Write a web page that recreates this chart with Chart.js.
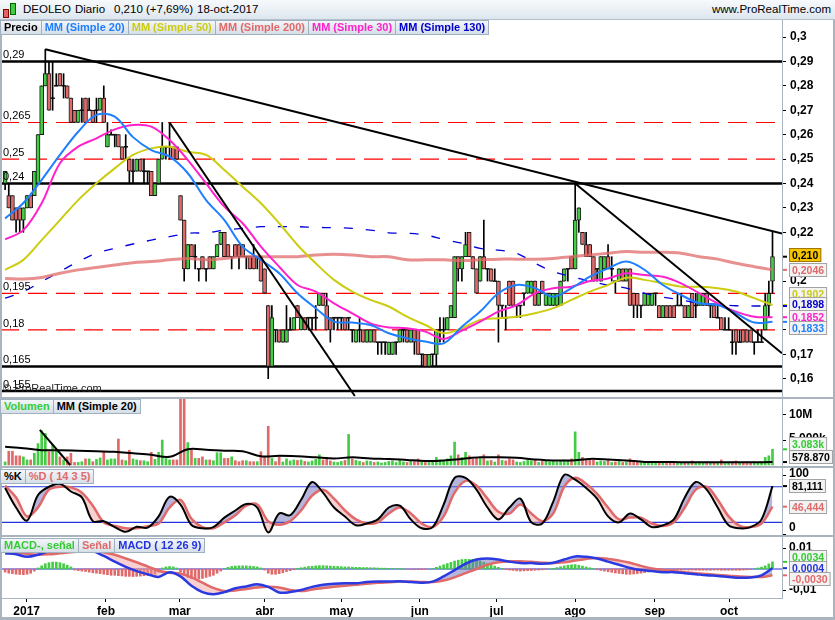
<!DOCTYPE html>
<html lang="es">
<head>
<meta charset="utf-8">
<title>DEOLEO Diario</title>
<script src="https://cdn.jsdelivr.net/npm/chart.js@4.4.1/dist/chart.umd.min.js"></script>
<style>
  html, body { margin: 0; padding: 0; background: #fff; }
  #wrap { position: relative; width: 835px; height: 620px; overflow: hidden; font-family: "Liberation Sans", Arial, sans-serif; }
  #wrap canvas { position: absolute; left: 0; }
  #topbar { position: absolute; left: 0; top: 0; width: 835px; height: 20px; background: linear-gradient(#f7fafc, #dde6ee); border-bottom: 1px solid #b4c0cb; box-sizing: border-box; font-size: 11.5px; z-index: 6; }
  #topbar span { position: absolute; top: 3px; white-space: nowrap; }
  .tabs { position: absolute; left: 0; display: flex; z-index: 5; }
  .tabs div { height: 13px; line-height: 13px; padding: 0 3px; font: bold 11px "Liberation Sans", Arial, sans-serif; background: linear-gradient(#f3f6f9, #d6dfe7); border: 1px solid #9fb0bf; margin-right: -1px; white-space: nowrap; }
  .sep { position: absolute; background: #a9b4be; z-index: 4; }
</style>
</head>
<body>
<div id="wrap">
  <div id="topbar">
    <div style="position:absolute;left:3px;top:9px;width:4px;height:7px;background:#e06666;border:1px solid #800"></div>
    <div style="position:absolute;left:10px;top:3px;width:4px;height:10px;background:#44cc44;border:1px solid #060"></div>
    <span style="left:23px">DEOLEO</span>
    <span style="left:75px">Diario</span>
    <span style="left:114px">0,210 (+7,69%)</span>
    <span style="left:197px">18-oct-2017</span>
    <span style="right:4px">www.ProRealTime.com</span>
  </div>
  <div class="tabs" style="top:20px">
    <div style="color:#000">Precio</div>
    <div style="color:#1f7fff">MM (Simple 20)</div>
    <div style="color:#cccc11">MM (Simple 50)</div>
    <div style="color:#e06a6a">MM (Simple 200)</div>
    <div style="color:#ff22cc">MM (Simple 30)</div>
    <div style="color:#0000cc">MM (Simple 130)</div>
  </div>
  <div class="tabs" style="top:399px">
    <div style="color:#33cc33">Volumen</div>
    <div style="color:#000">MM (Simple 20)</div>
  </div>
  <div class="tabs" style="top:469px">
    <div style="color:#000">%K</div>
    <div style="color:#e06a6a">%D ( 14 3 5)</div>
  </div>
  <div class="tabs" style="top:538px">
    <div style="color:#33cc33">MACD-, señal</div>
    <div style="color:#e06a6a">Señal</div>
    <div style="color:#2233dd">MACD ( 12 26 9)</div>
  </div>

  <canvas id="price" width="835" height="377" style="top:20px"></canvas>
  <canvas id="volume" width="835" height="69" style="top:398px"></canvas>
  <canvas id="stoch" width="835" height="68" style="top:468px"></canvas>
  <canvas id="macd" width="835" height="83" style="top:537px"></canvas>

  <div class="sep" style="left:0;top:397px;width:835px;height:2px"></div>
  <div class="sep" style="left:0;top:466px;width:835px;height:2px"></div>
  <div class="sep" style="left:0;top:535px;width:835px;height:2px"></div>
  <div class="sep" style="left:0;top:598px;width:783px;height:1px"></div>
  <div class="sep" style="left:782px;top:20px;width:1px;height:579px"></div>
  <div class="sep" style="left:0;top:20px;width:2px;height:600px"></div>
  <div class="sep" style="left:833px;top:20px;width:2px;height:600px"></div>
  <div class="sep" style="left:0;top:617px;width:835px;height:3px"></div>
</div>

<script>
// one candle per trading day, index 0 = 22-dic-2016, index 210 = 18-oct-2017
const priceOpen = [
  .24,.235,.235,.23,.23,.225,.23,.235,.235,.24,
  .26,.28,.285,.275,.28,.285,.28,.28,.275,.27,
  .265,.27,.275,.27,.27,.27,.27,.275,.255,.26,
  .26,.26,.255,.255,.25,.245,.245,.25,.245,.245,
  .245,.235,.24,.25,.255,.255,.255,.255,.235,.225,
  .205,.215,.21,.205,.21,.205,.21,.205,.21,.215,
  .22,.215,.21,.215,.215,.215,.21,.21,.21,.21,
  .21,.205,.19,.165,.18,.18,.175,.175,.18,.18,
  .19,.18,.185,.185,.185,.185,.19,.195,.19,.185,
  .185,.185,.185,.185,.185,.18,.175,.18,.18,.175,
  .175,.18,.175,.175,.175,.17,.17,.175,.175,.18,
  .18,.175,.18,.18,.17,.17,.165,.17,.17,.18,
  .18,.18,.185,.185,.21,.205,.21,.22,.21,.205,
  .2,.21,.205,.205,.2,.2,.19,.185,.2,.2,
  .19,.19,.195,.195,.195,.2,.19,.2,.19,.19,
  .19,.19,.19,.2,.205,.21,.205,.225,.22,.215,
  .215,.21,.205,.2,.205,.21,.205,.2,.2,.205,
  .2,.205,.195,.195,.19,.19,.19,.19,.195,.19,
  .185,.19,.19,.19,.19,.19,.19,.185,.195,.19,
  .19,.19,.195,.19,.19,.185,.185,.18,.18,.175,
  .18,.175,.18,.18,.18,.175,.175,.175,.18,.19,.2
];
const priceHigh = [
  .245,.24,.235,.23,.23,.23,.235,.235,.245,.26,
  .28,.295,.29,.29,.285,.285,.285,.28,.275,.27,
  .27,.275,.275,.275,.27,.275,.275,.28,.265,.262,
  .26,.26,.255,.26,.25,.25,.25,.25,.25,.245,
  .245,.24,.25,.265,.255,.265,.255,.255,.235,.225,
  .215,.215,.215,.205,.21,.205,.21,.21,.215,.22,
  .22,.215,.21,.215,.215,.215,.21,.21,.215,.21,
  .21,.205,.19,.19,.18,.18,.18,.19,.185,.185,
  .19,.185,.185,.185,.185,.19,.195,.195,.195,.185,
  .185,.185,.185,.185,.185,.18,.18,.185,.18,.18,
  .18,.18,.175,.175,.175,.175,.175,.175,.18,.18,
  .18,.18,.18,.18,.17,.17,.17,.17,.18,.185,
  .185,.185,.19,.21,.21,.21,.22,.22,.21,.205,
  .21,.225,.205,.205,.205,.2,.19,.19,.2,.2,
  .19,.19,.195,.2,.2,.2,.195,.2,.195,.195,
  .195,.195,.2,.205,.205,.21,.24,.23,.22,.22,
  .215,.21,.205,.21,.21,.215,.21,.2,.205,.205,
  .205,.205,.195,.195,.19,.195,.195,.195,.195,.19,
  .19,.19,.19,.19,.195,.195,.19,.19,.195,.195,
  .195,.195,.195,.19,.19,.19,.185,.185,.185,.18,
  .18,.18,.18,.18,.18,.175,.18,.18,.195,.2,.22
];
const priceLow = [
  .2375,.23,.225,.22,.22,.22,.23,.23,.235,.24,
  .26,.28,.27,.27,.28,.28,.275,.275,.265,.265,
  .265,.265,.265,.27,.265,.265,.27,.265,.255,.26,
  .255,.255,.25,.25,.24,.24,.245,.245,.24,.24,
  .235,.235,.24,.25,.25,.25,.25,.25,.225,.2,
  .205,.21,.205,.2,.205,.2,.205,.205,.21,.215,
  .21,.21,.205,.21,.205,.21,.205,.205,.205,.205,
  .2,.195,.16,.165,.175,.175,.175,.175,.18,.18,
  .185,.18,.18,.18,.18,.18,.19,.19,.18,.175,
  .18,.18,.18,.18,.18,.175,.175,.175,.175,.175,
  .175,.175,.17,.17,.17,.17,.17,.17,.175,.175,
  .175,.175,.17,.17,.165,.165,.165,.165,.165,.175,
  .175,.18,.185,.185,.2,.2,.21,.21,.205,.195,
  .2,.205,.2,.2,.2,.175,.185,.18,.19,.19,
  .185,.185,.19,.195,.195,.19,.19,.195,.19,.19,
  .19,.19,.19,.2,.2,.205,.205,.22,.215,.21,
  .21,.2,.2,.2,.205,.205,.2,.195,.2,.2,
  .2,.19,.185,.185,.185,.19,.19,.19,.19,.185,
  .185,.185,.185,.185,.19,.19,.185,.185,.185,.185,
  .19,.19,.19,.185,.185,.185,.18,.18,.18,.17,
  .17,.175,.175,.175,.175,.17,.175,.175,.18,.185,.195
];
const priceClose = [
  .245,.23,.225,.225,.225,.23,.235,.23,.245,.26,
  .28,.285,.27,.275,.28,.28,.28,.275,.265,.265,
  .27,.27,.265,.27,.265,.27,.275,.265,.26,.26,
  .26,.255,.25,.255,.245,.245,.25,.245,.245,.245,
  .235,.24,.25,.255,.255,.255,.25,.25,.225,.205,
  .215,.21,.21,.205,.205,.205,.205,.21,.215,.22,
  .21,.21,.21,.21,.21,.21,.21,.205,.205,.21,
  .2,.195,.165,.185,.18,.175,.18,.18,.18,.185,
  .185,.185,.18,.185,.185,.185,.195,.19,.18,.18,
  .185,.185,.185,.18,.185,.18,.18,.18,.175,.18,
  .18,.175,.175,.175,.175,.175,.175,.175,.18,.18,
  .175,.18,.175,.17,.17,.165,.17,.17,.18,.18,
  .18,.185,.19,.21,.205,.21,.215,.21,.205,.195,
  .21,.205,.205,.2,.2,.19,.19,.185,.19,.19,
  .19,.19,.195,.2,.2,.19,.195,.195,.195,.195,
  .195,.195,.2,.205,.205,.205,.225,.23,.215,.21,
  .21,.2,.205,.21,.21,.205,.205,.2,.205,.2,
  .205,.19,.19,.19,.19,.195,.195,.195,.195,.185,
  .19,.185,.185,.185,.19,.19,.185,.19,.185,.19,
  .195,.195,.19,.19,.185,.185,.18,.18,.18,.175,
  .175,.175,.175,.175,.175,.175,.175,.175,.19,.195,.21
];
// volume in thousands of shares
const volume = [
  600,2700,2700,1800,1800,1600,1000,1000,2300,4200,
  6700,6200,2600,3900,2900,1600,1000,1600,2300,500,
  500,650,1200,1200,650,1100,1400,2700,1000,1200,
  1200,5100,1000,850,2900,1200,1000,850,850,650,
  2500,1100,2500,4900,1300,1000,1000,1000,15000,15000,
  4400,2900,1300,1300,1600,1000,1000,850,2400,2400,
  1300,1300,1600,850,650,850,850,650,650,650,
  2600,1600,7600,1300,650,1600,600,1200,800,1000,
  900,1000,700,600,800,1100,2000,1000,1500,800,
  600,500,700,900,6000,1200,900,700,500,800,
  700,500,600,400,500,700,800,500,1000,600,
  500,800,700,1200,600,500,500,600,1500,1000,
  700,1200,1800,4500,2000,1500,2500,1800,1200,1500,
  1500,2000,800,900,600,2000,900,800,1200,1000,
  600,500,700,900,800,1000,500,700,800,600,
  700,600,900,1000,800,1200,6500,2500,1500,1000,
  900,1000,600,800,700,900,500,600,700,500,
  600,1200,600,700,500,600,500,600,400,600,
  500,600,500,600,400,400,500,500,800,500,
  600,500,600,400,500,400,1000,500,400,600,
  800,400,500,600,500,600,500,600,1500,1800,3083
];

// moving averages read every 5 candles
const maIdx = [0,5,10,15,20,25,30,35,40,45,50,55,60,65,70,75,80,85,90,95,100,105,110,115,120,125,130,135,140,145,150,155,160,165,170,175,180,185,190,195,200,205,210];
const ma20 = [.2257,.232,.2415,.2517,.2612,.2681,.2674,.259,.2537,.251,.2442,.2332,.225,.2141,.2087,.2032,.195,.1889,.1834,.183,.182,.1786,.1766,.1752,.1745,.1813,.1875,.195,.1984,.1971,.1936,.1971,.2018,.2052,.208,.2046,.1984,.1943,.1909,.1902,.1868,.183,.1833];
const ma30 = [.2171,.2209,.2319,.2483,.2551,.2585,.2622,.264,.2633,.2578,.2496,.24,.2305,.2237,.2141,.2059,.1984,.1957,.1909,.1868,.1827,.181,.1807,.1793,.1763,.1797,.1834,.1875,.1902,.195,.1971,.1977,.2,.2011,.2032,.2025,.2018,.1991,.195,.1909,.1875,.1854,.1852];
const ma50 = [.2046,.2087,.2168,.225,.2332,.2401,.2462,.2517,.2544,.2551,.253,.2517,.2455,.2387,.2319,.2237,.2148,.2073,.2005,.1957,.1923,.1896,.1854,.182,.1786,.1807,.1841,.1848,.1854,.1868,.1889,.1923,.1957,.1984,.2014,.2005,.1991,.1977,.1977,.1971,.1957,.193,.1902];
const ma130 = [.193,.1957,.1998,.2039,.208,.2114,.2134,.2152,.2168,.2182,.2196,.2198,.2209,.2216,.2223,.2223,.2223,.222,.2219,.2216,.2209,.2198,.2196,.2189,.2171,.2155,.2134,.2127,.2114,.2073,.2039,.2018,.2,.1984,.1971,.195,.1934,.1923,.1909,.1905,.1899,.1898,.1898];
const ma200 = [.2011,.2009,.2015,.2032,.2046,.2056,.2066,.2075,.208,.2087,.2093,.2087,.2093,.21,.21,.21,.21,.2107,.211,.2107,.21,.21,.2087,.2087,.2087,.2084,.2087,.209,.209,.209,.2093,.21,.2107,.2114,.2121,.2118,.2118,.2114,.21,.209,.2073,.2059,.2046];
const volMa20 = [3600,3300,2900,2900,2800,2700,2600,2300,2000,1600,3100,3000,2800,2700,1700,1800,1700,1500,1300,1500,1300,1200,1000,800,900,1200,1500,1500,1400,1100,900,900,1200,1100,900,600,600,550,550,550,550,550,578.87];

// oscillator lines read every 3 candles
const oscIdx = Array.from({ length: 71 }, (_, i) => i * 3);
const stochK = [78,45,23,66,80,85,72,62,22,22,12,4,12.6,11,30,63,50,15.5,10,12,28,40,51,45,3,35,
  32,58,88,70,45,30,15,18,25,45,48,25,10,12,50,95,95,75,45,25,45,60,20,18,55,100,92,78,60,30,20,35,25,12,15,25,62,88,75,45,15,10,12,25,81.111];
const stochD = [82,62,30,45,75,80,79,70,48,20,14,10,10,13.5,18,45,58,26,12,10,20,32,48,50,22,16,
  22,40,65,75,60,40,25,18,20,35,45,35,18,12,30,70,90,82,60,38,35,50,35,22,35,80,95,85,68,45,25,28,28,18,14,20,45,75,80,58,30,14,12,18,46.444];
const macdLine = [.0075,.007,.0058,.0068,.0085,.0092,.009,.0088,.0085,.0062,.0035,.001,-.001,-.0025,-.0038,-.0015,-.0035,-.008,-.011,-.012,-.011,-.0092,-.0083,-.0073,-.0085,-.0112,
  -.011,-.01,-.0085,-.0075,-.007,-.0068,-.0068,-.0062,-.006,-.006,-.0058,-.0062,-.0065,-.006,-.0035,-.0005,.0025,.0045,.005,.0045,.0035,.0028,.0028,.0025,.003,.0045,.006,.0058,.005,.0035,.002,.0005,-.0005,-.001,-.0015,-.0015,-.002,-.0025,-.003,-.0033,-.0038,-.0042,-.004,-.003,.0004];
const macdSignal = [.0085,.008,.0072,.0068,.007,.0075,.008,.0084,.0087,.008,.0068,.005,.0032,.0012,-.0008,-.0018,-.0022,-.004,-.0065,-.009,-.0105,-.0102,-.0095,-.0088,-.0085,-.0088,
  -.01,-.0105,-.0098,-.009,-.0085,-.008,-.0075,-.007,-.0066,-.0063,-.006,-.006,-.0062,-.0062,-.0055,-.004,-.002,0,.002,.0032,.0037,.0037,.0034,.003,.0028,.0032,.004,.0048,.0052,.0048,.004,.003,.0015,.0003,-.0005,-.001,-.0015,-.002,-.0024,-.0028,-.0032,-.0036,-.0038,-.0038,-.003];
// histogram (MACD - señal), one bar per candle
const macdHist = [
  -.0015,-.002,-.0022,-.0025,-.0026,-.0027,-.0025,-.002,-.001,.0005,
  .0015,.0025,.003,.0033,.0033,.003,.0025,.0018,.001,-.0005,
  -.0008,-.001,-.0012,-.0015,-.0018,-.002,-.0022,-.0025,-.0027,-.003,
  -.003,-.0032,-.0033,-.0035,-.0035,-.0036,-.0035,-.0034,-.0032,-.003,
  -.0028,-.0025,-.0015,.0005,.001,.0012,.001,.0005,-.0015,-.003,
  -.004,-.0045,-.005,-.0048,-.0045,-.004,-.0035,-.003,-.002,-.001,
  .0002,.0008,.0012,.0014,.0015,.0015,.0015,.0014,.0012,.001,
  .0005,-.0005,-.002,-.0025,-.0025,-.0022,-.0018,-.0012,-.0008,-.0003,
  .0003,.0006,.0009,.0012,.0013,.0015,.0016,.0016,.0015,.0014,
  .0013,.0012,.0011,.001,.001,.0009,.0008,.0008,.0007,.0007,
  .0006,.0006,.0005,.0004,.0004,.0003,.0003,.0002,.0002,.0001,
  -.0001,-.0002,-.0003,-.0003,-.0003,-.0002,0,.0003,.0008,.0014,
  .002,.0026,.0032,.0038,.0042,.0045,.0046,.0046,.0045,.0042,
  .0038,.0032,.0026,.002,.0014,.0008,.0003,-.0002,-.0005,-.0007,
  -.0009,-.001,-.0009,-.0008,-.0007,-.0006,-.0005,-.0004,-.0002,0,
  .0003,.0007,.0011,.0015,.0018,.002,.0021,.0018,.0014,.001,
  .0006,.0002,-.0003,-.0007,-.001,-.0013,-.0016,-.0019,-.0021,-.0023,
  -.0025,-.0025,-.0024,-.0022,-.002,-.0017,-.0014,-.0012,-.001,-.0009,
  -.0008,-.0007,-.0006,-.0006,-.0005,-.0005,-.0005,-.0005,-.0005,-.0006,
  -.0006,-.0006,-.0006,-.0006,-.0005,-.0005,-.0006,-.0006,-.0006,-.0006,
  -.0006,-.0006,-.0005,-.0004,-.0002,.0001,.0005,.0009,.0015,.0024,.0034
];

const solidLevels = [0.29, 0.24, 0.165, 0.155];
const dashedLevels = [0.265, 0.25, 0.195, 0.18];
// [from candle, from price, to candle, to price]
const trendLines = [[11, 0.295, 212.6, 0.2195], [45, 0.265, 95.7, 0.1529], [156, 0.24, 212.6, 0.1704]];
const volTrendLines = [[9.5, 6900, 17.8, 0]];

const monthTicks = [5.9, 27.6, 47.8, 71.1, 92, 113.5, 134.5, 156, 177.8, 198.1];
const monthLabels = ['2017', 'feb', 'mar', 'abr', 'may', 'jun', 'jul', 'ago', 'sep', 'oct'];

const xMin = -1.4, xMax = 212.6;
const GREEN = '#44cc44', RED = '#e06a6a', SALMON = '#e06a6a';
const FONT = '"Liberation Sans", Arial, sans-serif';
const BOXFONT = 'bold 10.5px ' + FONT;

Chart.defaults.font.family = FONT;
Chart.defaults.animation = false;
Chart.defaults.events = [];
Chart.defaults.plugins.legend.display = false;
Chart.defaults.plugins.tooltip.enabled = false;

const pts = (idx, vals) => idx.map((x, i) => ({ x, y: vals[i] }));
const comma = (v, d) => v.toFixed(d).replace('.', ',');
const dots = n => String(Math.round(n)).replace(/\B(?=(\d{3})+(?!\d))/g, '.');
const last = a => a[a.length - 1];

const lineSet = (data, color, width, extra = {}) => Object.assign({
  type: 'line', data, borderColor: color, borderWidth: width,
  pointRadius: 0, tension: 0.35, fill: false
}, extra);

const segment = (x1, y1, x2, y2, color, width, extra = {}) =>
  lineSet([{ x: x1, y: y1 }, { x: x2, y: y2 }], color, width, Object.assign({ tension: 0 }, extra));

const fitRight = s => { s.width = 53; s.paddingTop = 0; s.paddingBottom = 0; };
const hiddenX = { type: 'linear', min: xMin, max: xMax, offset: false, display: false };

// candle direction: up / down, doji compared with previous close
const candleDir = priceClose.map((c, i) => {
  if (c > priceOpen[i]) return 1;
  if (c < priceOpen[i]) return -1;
  return i > 0 && c < priceClose[i - 1] ? -1 : 1;
});

// right hand labels, value boxes and tick marks
const sideLabels = {
  id: 'sideLabels',
  afterDraw(chart, args, opts) {
    const { ctx } = chart;
    const y = chart.scales.y;
    const x0 = chart.chartArea.right;
    ctx.save();
    ctx.textBaseline = 'middle';
    (opts.texts || []).forEach(t => {
      const py = Math.round(y.getPixelForValue(t.v)) + 0.5;
      ctx.strokeStyle = '#000';
      ctx.lineWidth = 1;
      ctx.beginPath(); ctx.moveTo(x0, py); ctx.lineTo(x0 + 4, py); ctx.stroke();
      ctx.font = 'bold 12px ' + FONT;
      ctx.fillStyle = '#000';
      ctx.fillText(t.text, x0 + 7, py + (t.dy || 0));
    });
    ctx.font = BOXFONT;
    (opts.boxes || []).forEach(b => {
      const py = y.getPixelForValue(b.v);
      ctx.strokeStyle = b.color;
      ctx.lineWidth = 2;
      ctx.beginPath(); ctx.moveTo(x0, py); ctx.lineTo(x0 + 5, py); ctx.stroke();
      const cy = Math.round(py + (b.dy || 0));
      const w = ctx.measureText(b.text).width + 6;
      ctx.fillStyle = b.bg || '#f3f3f3';
      ctx.fillRect(x0 + 7, cy - 7, w, 14);
      ctx.strokeStyle = b.edge || '#a3a3a3';
      ctx.lineWidth = 1;
      ctx.strokeRect(x0 + 7.5, cy - 6.5, w - 1, 13);
      ctx.fillStyle = b.textColor || b.color;
      ctx.fillText(b.text, x0 + 10, cy + 1);
    });
    ctx.restore();
  }
};

// level captions on the left of the price pane
const levelCaptions = {
  id: 'levelCaptions',
  afterDatasetsDraw(chart) {
    const { ctx } = chart;
    const y = chart.scales.y;
    ctx.save();
    ctx.font = '11px ' + FONT;
    ctx.fillStyle = '#000';
    ctx.textBaseline = 'alphabetic';
    solidLevels.concat(dashedLevels).forEach(v => {
      ctx.fillText(comma(v, 3).replace(/0$/, ''), 3, y.getPixelForValue(v) - 3);
    });
    ctx.fillStyle = '#222';
    ctx.fillText('\u00a9 ProRealTime.com', 3, chart.chartArea.bottom - 5);
    ctx.restore();
  }
};

// ---------- price pane ----------
const wicks = priceHigh.map((h, i) => ({ x: i, y: [priceLow[i], h] }));
const bodies = priceOpen.map((o, i) => {
  const c = priceClose[i];
  return o === c ? { x: i, y: [o - 0.00025, o + 0.00025] } : { x: i, y: [o, c] };
});
const bodyColors = priceOpen.map((o, i) => priceClose[i] > o ? GREEN : priceClose[i] < o ? RED : '#000');

new Chart(document.getElementById('price'), {
  type: 'bar',
  data: {
    datasets: [
      ...trendLines.map(t => segment(t[0], t[1], t[2], t[3], '#000', 2, { order: 0 })),
      lineSet(pts(maIdx, ma20), '#1f7fff', 2, { order: 1 }),
      lineSet(pts(maIdx, ma30), '#ff22cc', 2, { order: 1 }),
      lineSet(pts(maIdx, ma50), '#cccc11', 2, { order: 1 }),
      lineSet(pts(maIdx, ma200), 'rgba(224,106,106,0.75)', 3, { order: 1 }),
      lineSet(pts(maIdx, ma130), '#0000dd', 1.3, { order: 1, borderDash: [9, 13] }),
      { type: 'bar', data: bodies, backgroundColor: bodyColors, borderColor: '#1a1a1a', borderWidth: 1,
        borderSkipped: false, barThickness: 4, grouped: false, order: 2 },
      { type: 'bar', data: wicks, backgroundColor: '#000', barThickness: 1, grouped: false, order: 3 },
      ...solidLevels.map(v => segment(xMin, v, xMax, v, '#000', 2.5, { order: 4 })),
      ...dashedLevels.map(v => segment(xMin, v, xMax, v, '#ff0000', 1.2, { order: 4, borderDash: [19, 9] }))
    ]
  },
  options: {
    responsive: false,
    layout: { padding: 0 },
    scales: {
      x: hiddenX,
      y: {
        position: 'right', min: 0.1525, max: 0.307,
        afterFit: fitRight,
        ticks: { stepSize: 0.01, includeBounds: false, color: '#000', padding: 4,
          font: { weight: 'bold', size: 12 }, callback: v => String(Math.round(v * 100) / 100).replace('.', ',') },
        grid: { drawOnChartArea: false, color: '#000', tickLength: 4 },
        border: { display: false }
      }
    },
    plugins: {
      sideLabels: { boxes: [
        { text: comma(last(priceClose), 3), v: last(priceClose), dy: -1.5, color: '#000', bg: '#f5c400', edge: '#a07800' },
        { text: comma(last(ma200), 4), v: last(ma200), dy: 0, color: '#e06a6a' },
        { text: comma(last(ma50), 4), v: last(ma50), dy: -11, color: '#cccc11' },
        { text: comma(last(ma130), 4), v: last(ma130), dy: -1.5, color: '#0000cc' },
        { text: comma(last(ma30), 4), v: last(ma30), dy: 0, color: '#ff22cc' },
        { text: comma(last(ma20), 4), v: last(ma20), dy: 6, color: '#1f7fff' }
      ] }
    }
  },
  plugins: [levelCaptions, sideLabels]
});

// ---------- volume pane ----------
new Chart(document.getElementById('volume'), {
  type: 'bar',
  data: {
    datasets: [
      ...volTrendLines.map(t => segment(t[0], t[1], t[2], t[3], '#000', 2, { order: 0 })),
      lineSet(pts(maIdx, volMa20), '#000', 2, { order: 1 }),
      { type: 'bar', data: volume.map((v, i) => ({ x: i, y: v })),
        backgroundColor: candleDir.map(d => d > 0 ? GREEN : RED),
        barThickness: 2, grouped: false, order: 2 }
    ]
  },
  options: {
    responsive: false,
    layout: { padding: 0 },
    scales: {
      x: hiddenX,
      y: { position: 'right', min: -390, max: 13140, afterFit: fitRight,
        ticks: { display: false }, grid: { display: false }, border: { display: false } }
    },
    plugins: {
      sideLabels: {
        texts: [{ text: '10M', v: 10000 }, { text: '5.000k', v: 5000, dy: -2 }],
        boxes: [
          { text: dots(last(volume)) + 'k', v: last(volume), dy: -5, color: '#33cc33' },
          { text: dots(last(volMa20) * 1000), v: last(volMa20), dy: -5, color: '#000' }
        ]
      }
    }
  },
  plugins: [sideLabels]
});

// ---------- stochastic pane ----------
new Chart(document.getElementById('stoch'), {
  type: 'line',
  data: {
    datasets: [
      lineSet(pts(oscIdx, stochK), '#000', 2, { order: 0 }),
      lineSet(pts(oscIdx, stochD), SALMON, 2.5, { order: 1,
        fill: { target: 0, above: 'rgba(240,150,150,0.45)', below: 'rgba(110,110,185,0.5)' } }),
      segment(xMin, 80, xMax, 80, '#2233dd', 1.2, { order: 2 }),
      segment(xMin, 20, xMax, 20, '#2233dd', 1.2, { order: 2 })
    ]
  },
  options: {
    responsive: false,
    layout: { padding: 0 },
    scales: {
      x: hiddenX,
      y: { position: 'right', min: -3, max: 111.6, afterFit: fitRight,
        ticks: { display: false }, grid: { display: false }, border: { display: false } }
    },
    plugins: {
      sideLabels: {
        texts: [{ text: '100', v: 100, dy: -2 }, { text: '0', v: 0, dy: -7 }],
        boxes: [
          { text: comma(last(stochK), 3), v: last(stochK), color: '#000' },
          { text: comma(last(stochD), 3), v: last(stochD), color: SALMON }
        ]
      }
    }
  },
  plugins: [sideLabels]
});

// ---------- MACD pane ----------
new Chart(document.getElementById('macd'), {
  type: 'bar',
  data: {
    datasets: [
      lineSet(pts(oscIdx, macdLine), '#2a3ae0', 2.5, { order: 0 }),
      lineSet(pts(oscIdx, macdSignal), SALMON, 2.5, { order: 1,
        fill: { target: 0, above: 'rgba(240,150,150,0.45)', below: 'rgba(110,110,185,0.5)' } }),
      segment(xMin, 0, xMax, 0, '#2233dd', 1.2, { order: 3 }),
      { type: 'bar', data: macdHist.map((v, i) => ({ x: i, y: v })),
        backgroundColor: macdHist.map(v => v >= 0 ? GREEN : RED),
        barThickness: 2, grouped: false, order: 2 }
    ]
  },
  options: {
    responsive: false,
    layout: { padding: 0 },
    scales: {
      x: {
        type: 'linear', min: xMin, max: xMax, position: 'bottom', offset: false,
        afterBuildTicks: s => { s.ticks = monthTicks.map(v => ({ value: v })); },
        afterFit: s => { s.height = 22; s.paddingLeft = 0; s.paddingRight = 0; },
        ticks: { autoSkip: false, maxRotation: 0, color: '#000', padding: 2,
          font: { weight: 'bold', size: 12 }, callback: (v, i) => monthLabels[i] },
        grid: { drawOnChartArea: false, offset: false, color: '#000', tickLength: 4 },
        border: { display: false }
      },
      y: { position: 'right', min: -0.01381, max: 0.01524, afterFit: fitRight,
        ticks: { display: false }, grid: { display: false }, border: { display: false } }
    },
    plugins: {
      sideLabels: {
        texts: [{ text: '0,01', v: 0.01, dy: -1 }, { text: '-0,01', v: -0.01, dy: -1 }],
        boxes: [
          { text: comma(last(macdHist), 4), v: last(macdHist), dy: -5, color: '#33cc33' },
          { text: comma(last(macdLine), 4), v: last(macdLine), dy: 0, color: '#2233dd' },
          { text: comma(last(macdSignal), 4), v: last(macdSignal), dy: 4, color: SALMON }
        ]
      }
    }
  },
  plugins: [sideLabels]
});
</script>
</body>
</html>
